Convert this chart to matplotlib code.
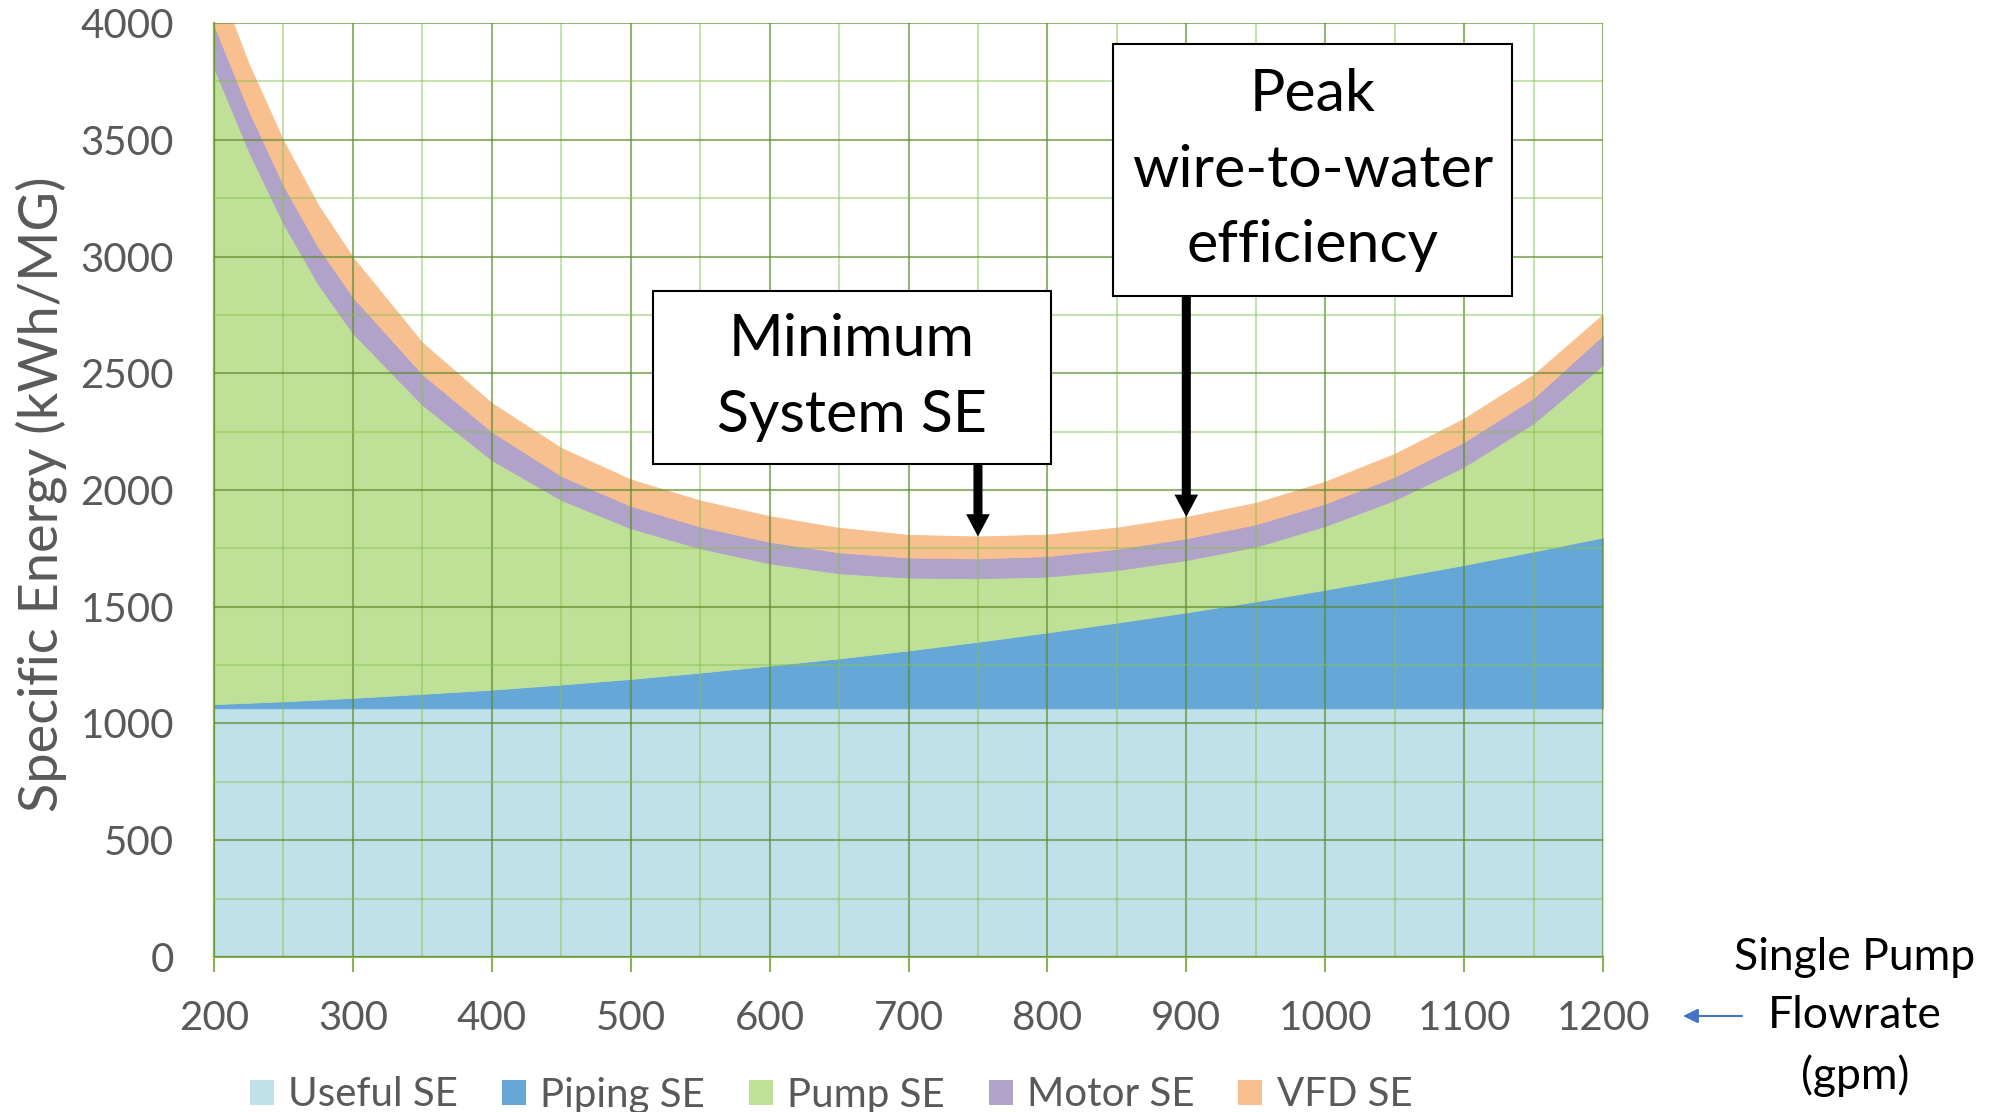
import matplotlib
matplotlib.use("Agg")
import matplotlib.pyplot as plt
from matplotlib.patches import Patch, Rectangle
from matplotlib.ticker import MultipleLocator

plt.rcParams["font.family"] = ["Lato", "DejaVu Sans"]

# Single pump flowrate (gpm)
flow = [200, 225, 250, 275, 300, 350, 400, 450, 500, 550, 600, 650, 700,
        750, 800, 850, 900, 950, 1000, 1050, 1100, 1150, 1200]

# Specific energy components (kWh/MG), stacked bottom to top
useful_se = [1065, 1065, 1065, 1065, 1065, 1065, 1065, 1065, 1065, 1065, 1065,
             1065, 1065, 1065, 1065, 1065, 1065, 1065, 1065, 1065, 1065, 1065,
             1065]
piping_se = [18, 24, 30, 37, 45, 62, 80, 102, 126, 153, 183, 214, 248,
             285, 325, 367, 411, 458, 508, 560, 614, 672, 732]
pump_se = [2724, 2361, 2045, 1778, 1561, 1237, 983, 790, 645, 532, 438, 364,
           312, 272, 239, 225, 224, 234, 273, 332, 421, 549, 739]
motor_se = [185, 175, 165, 160, 155, 132, 122, 103, 96, 93, 92, 90, 86,
            85, 88, 91, 93, 96, 96, 100, 106, 108, 128]
vfd_se = [220, 200, 190, 180, 170, 135, 122, 120, 113, 112, 110, 105, 97,
          94, 92, 91, 92, 92, 94, 98, 100, 100, 88]

series_labels = ["Useful SE", "Piping SE", "Pump SE", "Motor SE", "VFD SE"]
series_colors = ["#C0E1EA", "#65A7D7", "#BFE197", "#B1A2C9", "#F8C08E"]

x_ticks = [200, 300, 400, 500, 600, 700, 800, 900, 1000, 1100, 1200]
y_ticks = [0, 500, 1000, 1500, 2000, 2500, 3000, 3500, 4000]

# Annotated flowrates
min_system_flow = 750
peak_w2w_flow = 900

tick_gray = "#595959"
axis_green = "#8AB35A"

fig = plt.figure(figsize=(20.06, 11.12), dpi=100)
ax = fig.add_axes([0.1067, 0.1394, 0.6924, 0.8399])

polys = ax.stackplot(flow, useful_se, piping_se, pump_se, motor_se, vfd_se,
                     colors=series_colors, labels=series_labels)
for p in polys:
    p.set_edgecolor(p.get_facecolor())
    p.set_linewidth(0.6)

ax.set_xlim(200, 1200)
ax.set_ylim(0, 4000)
ax.set_xticks(x_ticks)
ax.set_yticks(y_ticks)
ax.xaxis.set_minor_locator(MultipleLocator(50))
ax.yaxis.set_minor_locator(MultipleLocator(250))

ax.set_axisbelow(False)
ax.grid(which="major", color="#5E8A2A", alpha=0.65, linewidth=1.5)
ax.grid(which="minor", color="#86C04A", alpha=0.45, linewidth=1.5)

for side in ("top", "right"):
    ax.spines[side].set_visible(False)
for side in ("left", "bottom"):
    ax.spines[side].set_color(axis_green)
    ax.spines[side].set_linewidth(1.6)

ax.tick_params(axis="x", which="major", length=11, width=1.5, color=axis_green,
               direction="out", pad=20, labelsize=29, labelcolor=tick_gray)
ax.tick_params(axis="x", which="minor", length=0)
ax.tick_params(axis="y", which="both", length=0, pad=29, labelsize=29,
               labelcolor=tick_gray)

fig.text(41 / 2006, 1 - 494 / 1112, "Specific Energy (kWh/MG)", rotation=90,
         ha="center", va="center", fontsize=39, color=tick_gray)

# Total specific energy at each flowrate, for the arrow tips
totals = [u + pi + pu + m + v for u, pi, pu, m, v in
          zip(useful_se, piping_se, pump_se, motor_se, vfd_se)]


def callout(x0, x1, y0, y1, text, target_flow):
    box = Rectangle((x0, y0), x1 - x0, y1 - y0, facecolor="white",
                    edgecolor="black", linewidth=1.5, zorder=5)
    ax.add_patch(box)
    ax.text((x0 + x1) / 2, (y0 + y1) / 2, text, ha="center", va="center",
            fontsize=42.5, linespacing=1.52, color="black", zorder=6)
    tip = totals[flow.index(target_flow)]
    ax.annotate("", xy=(target_flow, tip), xytext=(target_flow, y0),
                arrowprops=dict(arrowstyle="simple,head_length=16,head_width=17,tail_width=6.5",
                                mutation_scale=1, fc="black", ec="none", lw=0,
                                shrinkA=0, shrinkB=0),
                zorder=6)


callout(515.8, 802.4, 2110, 2853, "Minimum\nSystem SE", min_system_flow)
callout(847.4, 1134.2, 2831, 3910, "Peak\nwire-to-water\nefficiency", peak_w2w_flow)

# X-axis title to the right of the tick labels
fig.text(1855 / 2006, 1 - 1017 / 1112, "Single Pump\nFlowrate\n(gpm)",
         ha="center", va="center", fontsize=32, linespacing=1.52, color="black")
ax.annotate("", xy=(1683, 1112 - 1016), xycoords="figure pixels",
            xytext=(1742, 1112 - 1016), textcoords="figure pixels",
            arrowprops=dict(arrowstyle="-|>,head_length=0.45,head_width=0.22",
                            mutation_scale=20, color="#4472C4", lw=1.5,
                            shrinkA=0, shrinkB=0))

handles = [Patch(facecolor=c, edgecolor="none") for c in series_colors]
fig.legend(handles, series_labels, loc="center",
           bbox_to_anchor=(831 / 2006, 1 - 1095 / 1112), ncol=5, frameon=False,
           fontsize=29, labelcolor=tick_gray, handlelength=0.6, handleheight=0.6,
           handletextpad=0.35, columnspacing=1.09, borderaxespad=0, borderpad=0)

fig.savefig("out.png", dpi=100)
